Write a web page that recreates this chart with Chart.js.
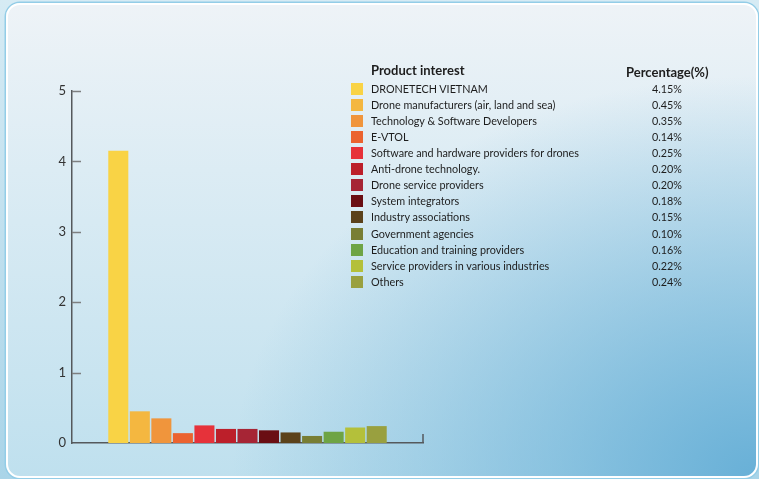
<!DOCTYPE html>
<html>
<head>
<meta charset="utf-8">
<script src="https://cdn.jsdelivr.net/npm/chart.js@4/dist/chart.umd.min.js"></script>
<style>
  html, body { margin: 0; padding: 0; }
  body { width: 759px; height: 479px; overflow: hidden; position: relative;
         background: linear-gradient(to bottom, #d6ebf4 0%, #a9d4e8 100%); font-family: Lato, "Open Sans", sans-serif; }
  #card { position: absolute; left: 6px; top: 3px; width: 748px; height: 471px; border-radius: 14px;
          border: 2px solid #ffffff; box-shadow: 0 0 0 1.5px #93cde7;
          background:
            radial-gradient(ellipse 70% 85% at 100% 100%, rgba(104,176,215,1) 0%, rgba(104,176,215,0) 100%),
            linear-gradient(to bottom, #eef3f7 0%, #dcecf4 35%, #bfe0ee 100%); }
  #wrap { position: absolute; left: 0; top: 0; width: 759px; height: 479px; }
  #legend { position: absolute; left: 351px; top: 62px; width: 360px; height: 240px; color: #1d1d1d; }
  #legend .hdr { position: absolute; left: 0; top: 0; width: 360px; height: 20px; font-weight: 700; font-size: 13px; }
  #legend .hdr .a { position: absolute; left: 20px; top: 0; }
  #legend .hdr .b { position: absolute; left: 275px; top: 2px; }
  #legend .row { position: absolute; left: 0; width: 360px; height: 16px; font-size: 10.8px; line-height: 16px; }
  #legend .sw { position: absolute; left: 0; top: 2px; width: 12px; height: 12px; }
  #legend .lbl { position: absolute; left: 20px; top: 0; white-space: nowrap; }
  #legend .val { position: absolute; right: 29px; top: 0; }
</style>
</head>
<body>
<div id="card"></div>
<div id="wrap"><canvas id="c" width="759" height="479"></canvas></div>
<div id="legend"></div>
<script>
const categories = [
  "DRONETECH VIETNAM",
  "Drone manufacturers (air, land and sea)",
  "Technology & Software Developers",
  "E-VTOL",
  "Software and hardware providers for drones",
  "Anti-drone technology.",
  "Drone service providers",
  "System integrators",
  "Industry associations",
  "Government agencies",
  "Education and training providers",
  "Service providers in various industries",
  "Others"
];
const percentages = [4.15, 0.45, 0.35, 0.14, 0.25, 0.20, 0.20, 0.18, 0.15, 0.10, 0.16, 0.22, 0.24];
const colors = ["#F9D345", "#F4B740", "#F0953C", "#EB6330", "#E6323A", "#BC1F2A", "#A62535", "#6A0E13",
                "#5B421B", "#787E34", "#6EA444", "#B4C03A", "#99A03F"];
const yTicks = [0, 1, 2, 3, 4, 5];
const legendTitle = "Product interest";
const valueTitle = "Percentage(%)";

// Legend table
const leg = document.getElementById('legend');
let html = '<div class="hdr"><span class="a">' + legendTitle + '</span><span class="b">' + valueTitle + '</span></div>';
categories.forEach((c, i) => {
  const esc = c.replace(/&/g, '&amp;');
  html += '<div class="row" style="top:' + (19 + i * 16.06).toFixed(2) + 'px"><span class="sw" style="background:' + colors[i] + '"></span>' +
          '<span class="lbl">' + esc + '</span><span class="val">' + percentages[i].toFixed(2) + '%</span></div>';
});
leg.innerHTML = html;

const axisDeco = {
  id: 'axisDeco',
  afterDraw(chart) {
    const ctx = chart.ctx, y = chart.scales.y, a = chart.chartArea;
    ctx.save();
    ctx.strokeStyle = '#7d7f80';
    ctx.lineWidth = 1.5;
    yTicks.forEach(t => {
      if (t === 0) return;
      const py = Math.round(y.getPixelForValue(t)) + 0.5;
      ctx.beginPath(); ctx.moveTo(a.left, py); ctx.lineTo(a.left + 9, py); ctx.stroke();
    });
    ctx.strokeStyle = '#55595c';
    ctx.beginPath(); ctx.moveTo(a.right, a.bottom); ctx.lineTo(a.right, a.bottom - 9); ctx.stroke();
    ctx.restore();
  }
};

new Chart(document.getElementById('c'), {
  type: 'bar',
  data: {
    datasets: [{
      data: percentages.map((v, i) => ({ x: i, y: v })),
      backgroundColor: colors,
      borderWidth: 0,
      categoryPercentage: 1.0,
      barPercentage: 0.93
    }]
  },
  options: {
    responsive: false,
    animation: false,
    events: [],
    layout: { padding: { left: 0, top: 91, right: 336, bottom: 0 } },
    plugins: { legend: { display: false }, tooltip: { enabled: false } },
    scales: {
      x: {
        type: 'linear', min: -2.15, max: 14.15, offset: false,
        grid: { display: false, tickLength: 0 },
        border: { display: true, color: '#55595c', width: 1.5 },
        ticks: { display: false },
        afterFit(s) { s.height = 36; }
      },
      y: {
        min: 0, max: 5,
        afterBuildTicks(s) { s.ticks = yTicks.map(v => ({ value: v })); },
        grid: { display: false, tickLength: 0 },
        border: { display: true, color: '#55595c', width: 1.5 },
        ticks: { color: '#333', padding: 6, font: { family: 'Lato', size: 13 } },
        afterFit(s) { s.width = 72; }
      }
    }
  },
  plugins: [axisDeco]
});
</script>
</body>
</html>
